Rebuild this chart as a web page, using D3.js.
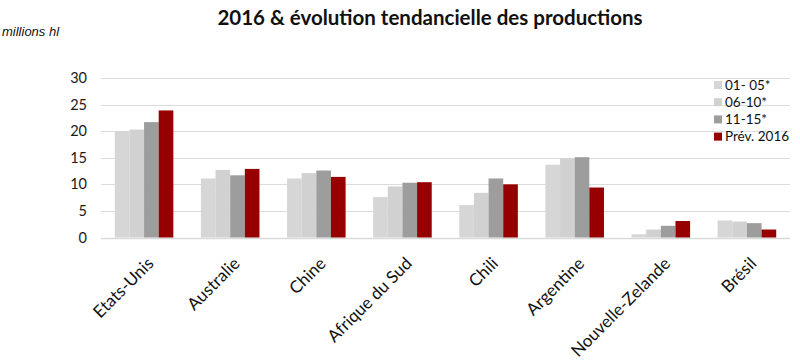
<!DOCTYPE html>
<html>
<head>
<meta charset="utf-8">
<script src="https://cdn.jsdelivr.net/npm/d3@7/dist/d3.min.js"></script>
<style>
  body { margin: 0; background: #fff; }
  svg { display: block; }
</style>
</head>
<body>
<svg id="chart" width="800" height="364"></svg>
<script>
const categories = ["Etats-Unis", "Australie", "Chine", "Afrique du Sud", "Chili", "Argentine", "Nouvelle-Zelande", "Brésil"];
const seriesNames = ["01- 05*", "06-10*", "11-15*", "Prév. 2016"];
const s0105 = [20.0, 11.1, 11.1, 7.6, 6.1, 13.7, 0.6, 3.2];
const s0610 = [20.3, 12.7, 12.1, 9.6, 8.4, 14.9, 1.5, 3.0];
const s1115 = [21.7, 11.7, 12.6, 10.3, 11.1, 15.1, 2.2, 2.7];
const sPrev = [23.9, 12.9, 11.4, 10.4, 10.0, 9.4, 3.1, 1.5];
const yTicks = [0, 5, 10, 15, 20, 25, 30];
const colors = ["#d6d6d6", "#d1d1d1", "#9d9d9d", "#960000"];

const seriesValues = [s0105, s0610, s1115, sPrev];
const svg = d3.select("#chart");

const x0 = d3.scaleBand().domain(categories).range([101, 790]).paddingInner(0.32).paddingOuter(0.16);
const x1 = d3.scaleBand().domain(seriesNames).range([0, x0.bandwidth()]).padding(0);
const y = d3.scaleLinear().domain([0, 30]).range([237.5, 78]);

// gridlines
svg.append("g").selectAll("line").data(yTicks).join("line")
  .attr("x1", 101).attr("x2", 790)
  .attr("y1", d => Math.round(y(d)) + 0.5).attr("y2", d => Math.round(y(d)) + 0.5)
  .attr("stroke", d => d === 0 ? "#d9d9d9" : "#dcdcdc")
  .attr("stroke-width", d => d === 0 ? 1.5 : 1);

// y axis labels
const yAxis = d3.axisLeft(y).tickValues(yTicks).tickSize(0).tickPadding(0);
const ya = svg.append("g").attr("transform", "translate(87,0)").call(yAxis);
ya.select(".domain").remove();
ya.selectAll("text").attr("font-family", "Lato, 'Open Sans', sans-serif")
  .attr("font-size", 14.5).attr("fill", "#1a1a1a");

// bars
const groups = svg.append("g").selectAll("g").data(categories).join("g")
  .attr("transform", d => `translate(${x0(d)},0)`);
groups.selectAll("rect").data((c, i) => seriesNames.map((s, j) => ({ s, j, v: seriesValues[j][i] })))
  .join("rect")
  .attr("x", d => x1(d.s))
  .attr("width", x1.bandwidth())
  .attr("y", d => y(d.v))
  .attr("height", d => y(0) - y(d.v))
  .attr("fill", d => colors[d.j]);

// category labels
svg.append("g").selectAll("text").data(categories).join("text")
  .attr("transform", d => `translate(${x0(d) + x0.bandwidth() / 2 + 1},255) rotate(-45)`)
  .attr("text-anchor", "end")
  .attr("dominant-baseline", "hanging")
  .attr("font-family", "Lato, 'Open Sans', sans-serif")
  .attr("font-size", 17)
  .attr("fill", "#111")
  .text(d => d);

// title
svg.append("text").attr("x", 430).attr("y", 25)
  .attr("text-anchor", "middle")
  .attr("font-family", "Lato, 'Open Sans', sans-serif")
  .attr("font-weight", "bold")
  .attr("font-size", 20.5)
  .attr("fill", "#111")
  .text("2016 & évolution tendancielle des productions");

// unit label
svg.append("text").attr("x", 2).attr("y", 36)
  .attr("font-family", "'Liberation Sans', Arial, sans-serif")
  .attr("font-style", "italic")
  .attr("font-size", 13)
  .attr("fill", "#111")
  .text("millions hl");

// legend
const lg = svg.append("g").selectAll("g").data(seriesNames).join("g")
  .attr("transform", (d, i) => `translate(714,${81 + i * 17.2})`);
lg.append("rect").attr("width", 8).attr("height", 8).attr("fill", (d, i) => colors[i]);
lg.append("text").attr("x", 11).attr("y", 8.5)
  .attr("font-family", "Lato, 'Open Sans', sans-serif")
  .attr("font-size", 13.5)
  .attr("fill", "#111")
  .text(d => d);
</script>
</body>
</html>
